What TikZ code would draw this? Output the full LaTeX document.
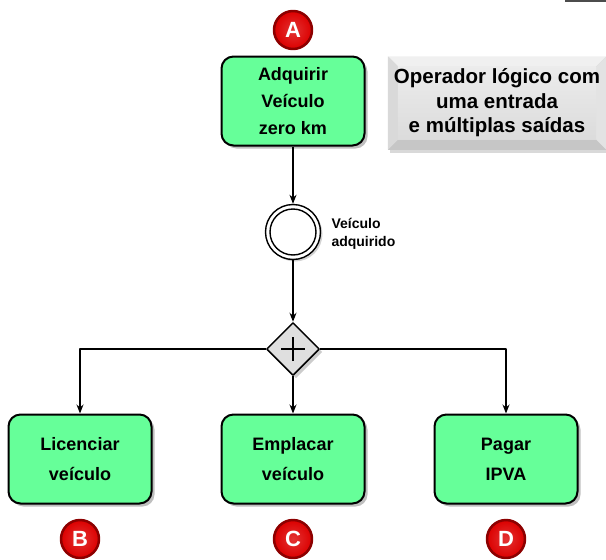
\documentclass[tikz,border=0pt]{standalone}
\usepackage{fontspec}
\setmainfont{Liberation Sans}
\usetikzlibrary{shapes.geometric,shadows,arrows.meta}
\definecolor{taskgreen}{RGB}{102,255,153}
\definecolor{badgered}{RGB}{220,0,0}
\definecolor{badgering}{RGB}{140,0,0}
\tikzset{
  task/.style={draw=black, line width=2pt, rounded corners=12pt, fill=taskgreen,
    minimum width=143pt, minimum height=89pt, align=center,
    drop shadow={shadow xshift=3pt, shadow yshift=-3pt, opacity=.5}},
  badge/.style={circle, draw=badgering, line width=2.5pt, inner color=badgered!80!white,
    outer color=badgered, minimum size=38pt, inner sep=0pt, text=white,
    font=\fontsize{22}{22}\selectfont\bfseries},
  flow/.style={->, line width=1.2pt, >={Stealth[length=9pt,width=7pt]}}
}
\begin{document}
\begin{tikzpicture}[x=1pt, y=-1pt, line join=round]
  \useasboundingbox (0,0) rectangle (606,560);
  \draw[line width=2.5pt, gray!60!black] (565,1) -- (606,1);
  % atividades
  \node[task, font=\fontsize{18}{27}\selectfont\bfseries] (adquirir) at (293,101) {Adquirir\\Veículo\\zero km};
  \node[task, font=\fontsize{18}{30}\selectfont\bfseries] (licenciar) at (80,459) {Licenciar\\veículo};
  \node[task, font=\fontsize{18}{30}\selectfont\bfseries] (emplacar) at (293,459) {Emplacar\\veículo};
  \node[task, font=\fontsize{18}{30}\selectfont\bfseries] (pagar) at (506,459) {Pagar\\IPVA};
  % evento intermediario
  \node[circle, draw, line width=1.4pt, fill=white, minimum size=55pt, inner sep=0pt,
    drop shadow={shadow xshift=2pt, shadow yshift=-2pt, opacity=.35}] (evento) at (293,232) {};
  \draw[line width=1.4pt] (evento.center) circle (23);
  \node[anchor=west, align=left, font=\fontsize{14}{18}\selectfont\bfseries] (rotulo) at (328,234) {Veículo\\adquirido};
  % gateway paralelo
  \node[diamond, draw, line width=1.5pt, fill=gray!25, minimum size=53pt, inner sep=0pt,
    drop shadow={shadow xshift=3pt, shadow yshift=-3pt, opacity=.4}] (gw) at (293,349) {};
  \draw[line width=2.5pt] ([xshift=-12pt]gw.center) -- ([xshift=12pt]gw.center)
    ([yshift=-12pt]gw.center) -- ([yshift=12pt]gw.center);
  % fluxos
  \draw[flow] (adquirir) -- (evento);
  \draw[flow] (evento) -- (gw);
  \draw[flow] (gw.west) -| (licenciar.north);
  \draw[flow] (gw) -- (emplacar);
  \draw[flow] (gw.east) -| (pagar.north);
  % marcadores
  \node[badge] (bA) at (293,30) {A};
  \node[badge] (bB) at (80,539) {B};
  \node[badge] (bC) at (293,539) {C};
  \node[badge] (bD) at (506,539) {D};
  % nota (com chanfro)
  \node[rectangle, fill=gray!45, minimum width=218pt, minimum height=93pt,
    drop shadow={shadow xshift=2pt, shadow yshift=-3pt, opacity=.3}] (nota) at (497,103) {};
  \fill[gray!12] (nota.north west) -- (nota.north east) -- ([xshift=-10pt,yshift=-10pt]nota.north east)
    -- ([xshift=10pt,yshift=-10pt]nota.north west) -- cycle;
  \fill[gray!30] (nota.north west) -- ([xshift=10pt,yshift=-10pt]nota.north west)
    -- ([xshift=10pt,yshift=10pt]nota.south west) -- (nota.south west) -- cycle;
  \fill[gray!22] (nota.north east) -- ([xshift=-10pt,yshift=-10pt]nota.north east)
    -- ([xshift=-10pt,yshift=10pt]nota.south east) -- (nota.south east) -- cycle;
  \shade[top color=gray!15, bottom color=gray!28] ([xshift=10pt,yshift=-10pt]nota.north west)
    rectangle ([xshift=-10pt,yshift=10pt]nota.south east);
  \node[align=center, font=\fontsize{20.5}{24.5}\selectfont\bfseries] (notatexto) at (nota.center)
    {Operador lógico com\\uma entrada\\e múltiplas saídas};
\end{tikzpicture}
\end{document}
